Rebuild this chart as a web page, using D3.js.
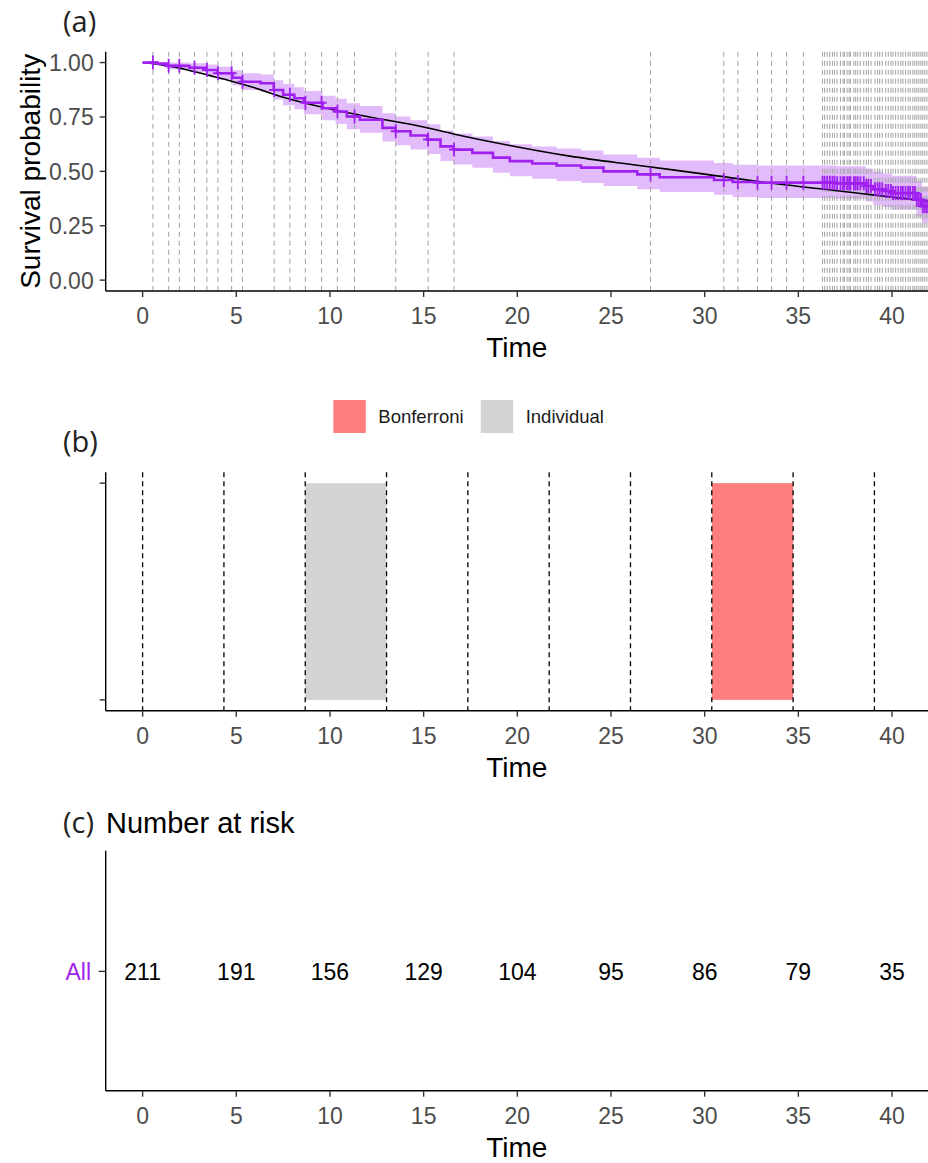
<!DOCTYPE html>
<html>
<head>
<meta charset="utf-8">
<script src="https://cdn.jsdelivr.net/npm/d3@7"></script>
<style>
  body { margin: 0; background: #fff; }
  text { font-family: "Liberation Sans", Arial, sans-serif; }
</style>
</head>
<body>
<div id="chart"></div>
<script>
// survival curve steps (Kaplan-Meier) with confidence band
const kmTimes = [0, 0.8, 1.3, 2.5, 3.4, 4.0, 4.8, 5.3, 6.3, 7.0, 7.5, 8.1, 8.6, 9.6, 10.3, 10.9, 11.6, 12.8, 13.5, 14.3, 15.2, 15.9, 16.6, 17.6, 18.7, 19.6, 20.8, 22.1, 23.4, 24.6, 26.4, 27.6, 30.5, 31.5, 32.8, 37.0, 38.6, 39.0, 39.5, 40.0, 41.3, 41.6, 42.3]
const kmSurv  = [1.000, 0.995, 0.985, 0.976, 0.966, 0.951, 0.930, 0.912, 0.905, 0.874, 0.852, 0.836, 0.815, 0.790, 0.775, 0.752, 0.737, 0.700, 0.684, 0.665, 0.646, 0.615, 0.600, 0.585, 0.563, 0.547, 0.536, 0.527, 0.517, 0.500, 0.486, 0.473, 0.460, 0.451, 0.448, 0.445, 0.433, 0.418, 0.410, 0.400, 0.370, 0.340, 0.340]
const kmLower = [1.000, 0.986, 0.969, 0.955, 0.941, 0.922, 0.896, 0.874, 0.866, 0.830, 0.804, 0.786, 0.762, 0.735, 0.718, 0.693, 0.677, 0.637, 0.620, 0.600, 0.580, 0.548, 0.532, 0.516, 0.493, 0.477, 0.466, 0.456, 0.446, 0.433, 0.418, 0.405, 0.392, 0.382, 0.378, 0.374, 0.361, 0.345, 0.336, 0.325, 0.293, 0.262, 0.262]
const kmUpper = [1.000, 1.000, 1.000, 0.997, 0.991, 0.981, 0.965, 0.951, 0.945, 0.919, 0.901, 0.887, 0.869, 0.847, 0.834, 0.813, 0.800, 0.767, 0.752, 0.735, 0.717, 0.688, 0.674, 0.660, 0.639, 0.624, 0.614, 0.605, 0.596, 0.578, 0.562, 0.550, 0.538, 0.530, 0.527, 0.524, 0.512, 0.498, 0.490, 0.480, 0.455, 0.430, 0.430]

// censoring times (dashed lines and + marks)
const censorTimes = [0.55, 1.39, 1.96, 2.77, 3.43, 4.02, 4.75, 5.33, 7.02, 7.86, 8.69, 9.55, 10.4, 11.31, 13.51, 15.24, 16.62, 27.11, 31.02, 31.77, 32.82, 33.57, 34.37, 35.27,
  36.29, 36.40, 36.54, 36.68, 36.82, 36.93, 37.07, 37.25, 37.39, 37.46, 37.60, 37.71, 37.78, 37.96, 38.06, 38.17, 38.31, 38.49, 38.63, 38.74, 38.88,
  39.09, 39.23, 39.34, 39.48, 39.66, 39.80, 39.94, 40.05, 40.19, 40.33, 40.47, 40.58, 40.72, 40.86, 40.97, 41.11, 41.22, 41.32, 41.43, 41.54, 41.64, 41.75, 41.86]

// fitted (black) curve
const fitTimes = [0, 1.2, 2.4, 3.6, 4.85, 5.75, 7.7, 10.2, 12.1, 15.0, 16.6, 19.6, 22.8, 26.5, 30.1, 33.6, 37.2, 41.8, 42.3]
const fitSurv  = [1.000, 0.987, 0.966, 0.940, 0.912, 0.890, 0.836, 0.783, 0.750, 0.704, 0.672, 0.619, 0.570, 0.527, 0.486, 0.445, 0.410, 0.364, 0.360]

// panel (b): interval breaks and flagged intervals
const intervalBreaks = [0, 4.34, 8.68, 13.02, 17.36, 21.70, 26.04, 30.38, 34.72, 39.06]
const flagStart = [8.68, 30.38]
const flagEnd = [13.02, 34.72]
const flagMethod = ['Individual', 'Bonferroni']
const legendMethods = ['Bonferroni', 'Individual']
const methodColors = ['#FF7F7F', '#D3D3D3']

// panel (c): number at risk
const riskTimes = [0, 5, 10, 15, 20, 25, 30, 35, 40]
const riskCounts = [211, 191, 156, 129, 104, 95, 86, 79, 35]
const riskGroup = ['All']

const xTicks = [0, 5, 10, 15, 20, 25, 30, 35, 40]
const yTicks = [0, 0.25, 0.5, 0.75, 1]

const purple = '#A020F0'
const W = 928, H = 1163
const left = 105.7, right = 928

const svg = d3.select('#chart').append('svg')
  .attr('width', W)
  .attr('height', H)

const x = d3.scaleLinear().domain([-1.97, 41.92]).range([left, right])

function xAxis(g, bottom) {
  g.append('line')
    .attr('x1', left).attr('x2', right).attr('y1', bottom).attr('y2', bottom)
    .attr('stroke', '#000').attr('stroke-width', 1.4)
  g.selectAll('.xt').data(xTicks).enter().append('line')
    .attr('x1', d => x(d)).attr('x2', d => x(d))
    .attr('y1', bottom).attr('y2', bottom + 6)
    .attr('stroke', '#333').attr('stroke-width', 1.4)
  g.selectAll('.xl').data(xTicks).enter().append('text')
    .attr('x', d => x(d)).attr('y', bottom + 33)
    .attr('text-anchor', 'middle')
    .attr('font-size', 23)
    .attr('fill', '#4D4D4D')
    .text(d => d)
  g.append('text')
    .attr('x', (left + right) / 2).attr('y', bottom + 66)
    .attr('text-anchor', 'middle')
    .attr('font-size', 28)
    .attr('fill', '#000')
    .text('Time')
}

function panelTag(label, y0) {
  svg.append('text')
    .attr('x', 63).attr('y', y0)
    .attr('font-size', 29)
    .attr('fill', '#222')
    .style('font-family', '"Open Sans", sans-serif')
    .text(label)
}

// ---------- panel (a) ----------
;(function() {
  const top = 51.7, bottom = 291
  const y = d3.scaleLinear().domain([-0.05, 1.05]).range([bottom, top])
  const g = svg.append('g')

  svg.append('defs').append('clipPath').attr('id', 'clipA')
    .append('rect').attr('x', left).attr('y', top - 2).attr('width', right - left).attr('height', bottom - top + 2)

  const plot = g.append('g').attr('clip-path', 'url(#clipA)')

  const rows = kmTimes.map((t, i) => ({ t, s: kmSurv[i], lo: kmLower[i], hi: kmUpper[i] }))

  // confidence band
  plot.append('path')
    .attr('d', d3.area().curve(d3.curveStepAfter)
      .x(d => x(d.t)).y0(d => y(d.lo)).y1(d => y(d.hi))(rows))
    .attr('fill', purple)
    .attr('fill-opacity', 0.3)

  // censor dashed lines
  plot.selectAll('.cl').data(censorTimes).enter().append('line')
    .attr('x1', d => x(d)).attr('x2', d => x(d))
    .attr('y1', top).attr('y2', bottom)
    .attr('stroke', '#A8A8A8')
    .attr('stroke-width', 1.1)
    .attr('stroke-dasharray', '5,4')

  // fitted curve
  const fitRows = fitTimes.map((t, i) => ({ t, s: fitSurv[i] }))
  plot.append('path')
    .attr('d', d3.line().curve(d3.curveMonotoneX).x(d => x(d.t)).y(d => y(d.s))(fitRows))
    .attr('fill', 'none')
    .attr('stroke', '#000')
    .attr('stroke-width', 1.6)

  // km step line
  plot.append('path')
    .attr('d', d3.line().curve(d3.curveStepAfter).x(d => x(d.t)).y(d => y(d.s))(rows))
    .attr('fill', 'none')
    .attr('stroke', purple)
    .attr('stroke-width', 2.6)

  // + marks at censor times
  const survAt = t => kmSurv[d3.bisectRight(kmTimes, t) - 1]
  plot.selectAll('.cm').data(censorTimes).enter().append('line')
    .attr('x1', d => x(d)).attr('x2', d => x(d))
    .attr('y1', d => y(survAt(d)) - 7).attr('y2', d => y(survAt(d)) + 7)
    .attr('stroke', purple)
    .attr('stroke-width', 1.8)
  plot.selectAll('.ch').data(censorTimes).enter().append('line')
    .attr('x1', d => x(d) - 5).attr('x2', d => x(d) + 5)
    .attr('y1', d => y(survAt(d))).attr('y2', d => y(survAt(d)))
    .attr('stroke', purple)
    .attr('stroke-width', 2)

  // y axis
  g.append('line')
    .attr('x1', left).attr('x2', left).attr('y1', top).attr('y2', bottom)
    .attr('stroke', '#000').attr('stroke-width', 1.4)
  g.selectAll('.yt').data(yTicks).enter().append('line')
    .attr('x1', left - 6).attr('x2', left)
    .attr('y1', d => y(d)).attr('y2', d => y(d))
    .attr('stroke', '#333').attr('stroke-width', 1.4)
  g.selectAll('.yl').data(yTicks).enter().append('text')
    .attr('x', left - 12).attr('y', d => y(d) + 8.5)
    .attr('text-anchor', 'end')
    .attr('font-size', 23)
    .attr('fill', '#4D4D4D')
    .text(d => d3.format('.2f')(d))
  g.append('text')
    .attr('transform', `translate(40, ${(top + bottom) / 2}) rotate(-90)`)
    .attr('text-anchor', 'middle')
    .attr('font-size', 28)
    .attr('fill', '#000')
    .text('Survival probability')

  xAxis(g, bottom)
  panelTag('(a)', 32)
})()

// ---------- panel (b) ----------
;(function() {
  const top = 472.3, bottom = 710.7
  const y = d3.scaleLinear().domain([-0.05, 1.05]).range([bottom, top])
  const g = svg.append('g')

  g.selectAll('.fr').data(flagStart).enter().append('rect')
    .attr('x', d => x(d))
    .attr('width', (d, i) => x(flagEnd[i]) - x(d))
    .attr('y', y(1))
    .attr('height', y(0) - y(1))
    .attr('fill', (d, i) => methodColors[legendMethods.indexOf(flagMethod[i])])

  g.selectAll('.br').data(intervalBreaks).enter().append('line')
    .attr('x1', d => x(d)).attr('x2', d => x(d))
    .attr('y1', top).attr('y2', bottom)
    .attr('stroke', '#000')
    .attr('stroke-width', 1.3)
    .attr('stroke-dasharray', '5,4')

  g.append('line')
    .attr('x1', left).attr('x2', left).attr('y1', top).attr('y2', bottom)
    .attr('stroke', '#000').attr('stroke-width', 1.4)
  g.selectAll('.yt').data([0, 1]).enter().append('line')
    .attr('x1', left - 6).attr('x2', left)
    .attr('y1', d => y(d)).attr('y2', d => y(d))
    .attr('stroke', '#333').attr('stroke-width', 1.4)

  xAxis(g, bottom)
  panelTag('(b)', 452)

  // legend
  const lg = svg.append('g')
  const boxX = [333.3, 480.7]
  legendMethods.forEach((m, i) => {
    lg.append('rect')
      .attr('x', boxX[i]).attr('y', 400)
      .attr('width', 32.5).attr('height', 33)
      .attr('fill', methodColors[i])
    lg.append('text')
      .attr('x', boxX[i] + 45).attr('y', 423)
      .attr('font-size', 18.5)
      .attr('fill', '#1a1a1a')
      .text(m)
  })
})()

// ---------- panel (c) ----------
;(function() {
  const top = 850.7, bottom = 1090.7
  const yc = (top + bottom) / 2 + 0.7
  const g = svg.append('g')

  g.append('line')
    .attr('x1', left).attr('x2', left).attr('y1', top).attr('y2', bottom)
    .attr('stroke', '#000').attr('stroke-width', 1.4)
  g.append('line')
    .attr('x1', left - 7).attr('x2', left)
    .attr('y1', yc).attr('y2', yc)
    .attr('stroke', '#333').attr('stroke-width', 1.4)
  g.append('text')
    .attr('x', 91).attr('y', yc + 8.5)
    .attr('text-anchor', 'end')
    .attr('font-size', 23)
    .attr('fill', purple)
    .text(riskGroup[0])

  g.selectAll('.rc').data(riskCounts).enter().append('text')
    .attr('x', (d, i) => x(riskTimes[i]))
    .attr('y', yc + 8.5)
    .attr('text-anchor', 'middle')
    .attr('font-size', 23)
    .attr('fill', '#000')
    .text(d => d)

  xAxis(g, bottom)
  panelTag('(c)', 833)
  svg.append('text')
    .attr('x', 106).attr('y', 833)
    .attr('font-size', 29)
    .attr('fill', '#000')
    .text('Number at risk')
})()
</script>
</body>
</html>
